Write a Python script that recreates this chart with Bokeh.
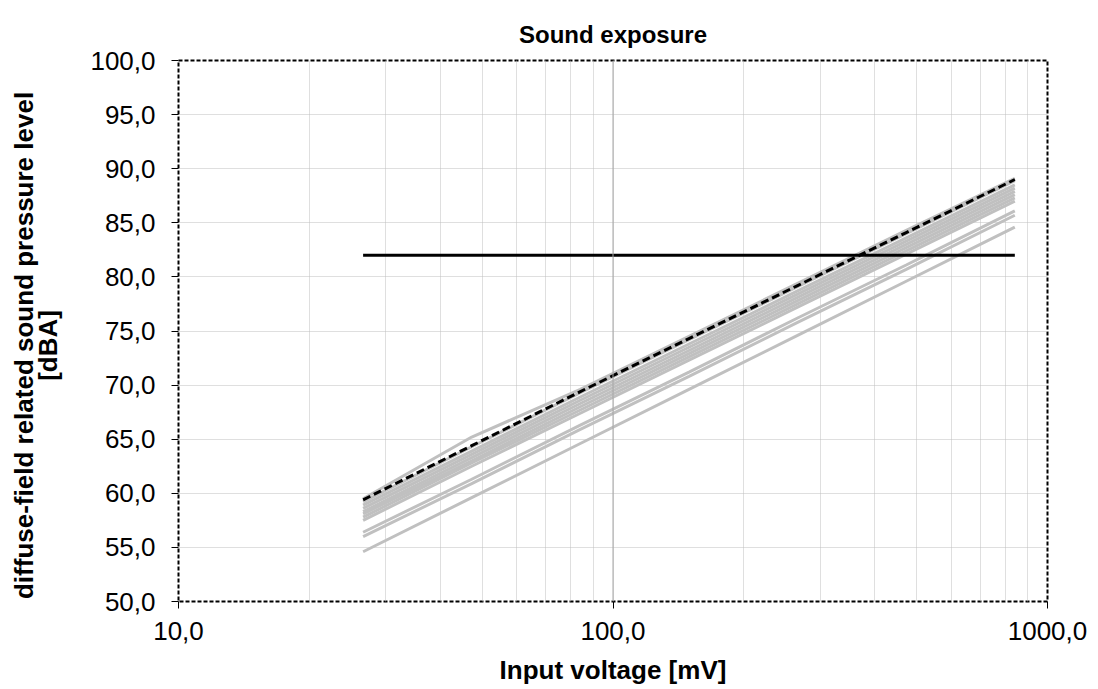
from bokeh.plotting import figure
from bokeh.models import (Range1d, FixedTicker, CustomJSTickFormatter, Span)
from bokeh.embed import file_html
from bokeh.resources import INLINE

# ---- data -------------------------------------------------------------
voltage_mv = [26.6, 47.3, 84.1, 149.6, 266.0, 473.0, 841.0]

gray_series = [
    [59.5, 65.2, 69.6, 74.5, 79.4, 84.3, 89.1],
    [59.2, 64.3, 69.3, 74.2, 79.1, 84.0, 88.9],
    [58.9, 63.9, 68.9, 73.8, 78.7, 83.6, 88.5],
    [58.6, 63.6, 68.6, 73.5, 78.4, 83.3, 88.2],
    [58.3, 63.3, 68.3, 73.2, 78.1, 83.0, 87.9],
    [58.1, 63.0, 68.0, 72.9, 77.8, 82.7, 87.6],
    [57.8, 62.8, 67.7, 72.6, 77.5, 82.4, 87.3],
    [57.5, 62.5, 67.4, 72.3, 77.2, 82.1, 87.0],
    [56.4, 61.3, 66.3, 71.2, 76.2, 81.1, 86.1],
    [56.0, 60.9, 65.9, 70.8, 75.8, 80.7, 85.7],
    [54.6, 59.6, 64.6, 69.6, 74.6, 79.6, 84.6],
]

reference_dashed = [59.4, 64.4, 69.4, 74.3, 79.2, 84.1, 89.0]
limit_db = [82.0, 82.0, 82.0, 82.0, 82.0, 82.0, 82.0]

x_ticks = [10, 100, 1000]
x_minor = [20, 30, 40, 50, 60, 70, 80, 90, 200, 300, 400, 500, 600, 700, 800, 900]
y_ticks = [50, 55, 60, 65, 70, 75, 80, 85, 90, 95, 100]

FONT = "Liberation Sans"
PAD = "\u00a0" * 4

p = figure(
    x_axis_type="log",
    x_range=Range1d(10, 1000),
    y_range=Range1d(50, 100),
    frame_width=869, frame_height=541,
    min_border_left=178, min_border_right=51,
    min_border_top=60, min_border_bottom=88,
    output_backend="svg", toolbar_location=None,
    title="Sound exposure",
)
p.background_fill_color = "white"
p.border_fill_color = "white"

p.title.align = "center"
p.title.text_font = FONT
p.title.text_font_size = "24px"
p.title.text_font_style = "bold"
p.title.text_color = "black"
p.title.standoff = 26

# frame outline
p.outline_line_color = "black"
p.outline_line_dash = "4 2"
p.outline_line_width = 2
p.outline_line_alpha = 1.0

# axes
fmt = CustomJSTickFormatter(code="return tick.toFixed(1).replace('.', ',');")
p.xaxis.ticker = FixedTicker(ticks=x_ticks, minor_ticks=x_minor)
p.yaxis.ticker = FixedTicker(ticks=y_ticks)
for ax in (p.xaxis[0], p.yaxis[0]):
    ax.formatter = fmt
    ax.axis_line_color = None
    ax.major_tick_in = 0
    ax.major_tick_out = 7
    ax.major_tick_line_color = "black"
    ax.minor_tick_out = 0
    ax.minor_tick_in = 0
    ax.major_label_text_font = FONT
    ax.major_label_text_font_size = "26px"
    ax.major_label_text_color = "black"
    ax.axis_label_text_font = FONT
    ax.axis_label_text_font_size = "26px"
    ax.axis_label_text_font_style = "bold"
    ax.axis_label_text_color = "black"

p.xaxis.axis_label = "Input voltage [mV]"
p.xaxis.major_label_standoff = 13
p.xaxis.axis_label_standoff = 12
p.yaxis.axis_label = "diffuse-field related sound pressure level" + PAD + "\n[dBA]" + PAD
p.yaxis.axis_label_text_line_height = 0.8
p.yaxis.major_label_standoff = 16
p.yaxis.axis_label_standoff = 24

# grids
p.xgrid.grid_line_color = "#bfbfbf"
p.xgrid.grid_line_dash = "1 1"
p.xgrid.minor_grid_line_color = "#bfbfbf"
p.xgrid.minor_grid_line_dash = "1 1"
p.ygrid.grid_line_color = "#bfbfbf"
p.ygrid.grid_line_dash = "1 1"

p.add_layout(Span(location=100, dimension="height", line_color="#a6a6a6", line_width=1))

# series
for ys in gray_series:
    p.line(voltage_mv, ys, line_color="#c0c0c0", line_width=3)
p.line(voltage_mv, limit_db, line_color="black", line_width=3)
p.line(voltage_mv, reference_dashed, line_color="black", line_width=3, line_dash="8 4")

open("out.html", "w").write(file_html(p, INLINE))
